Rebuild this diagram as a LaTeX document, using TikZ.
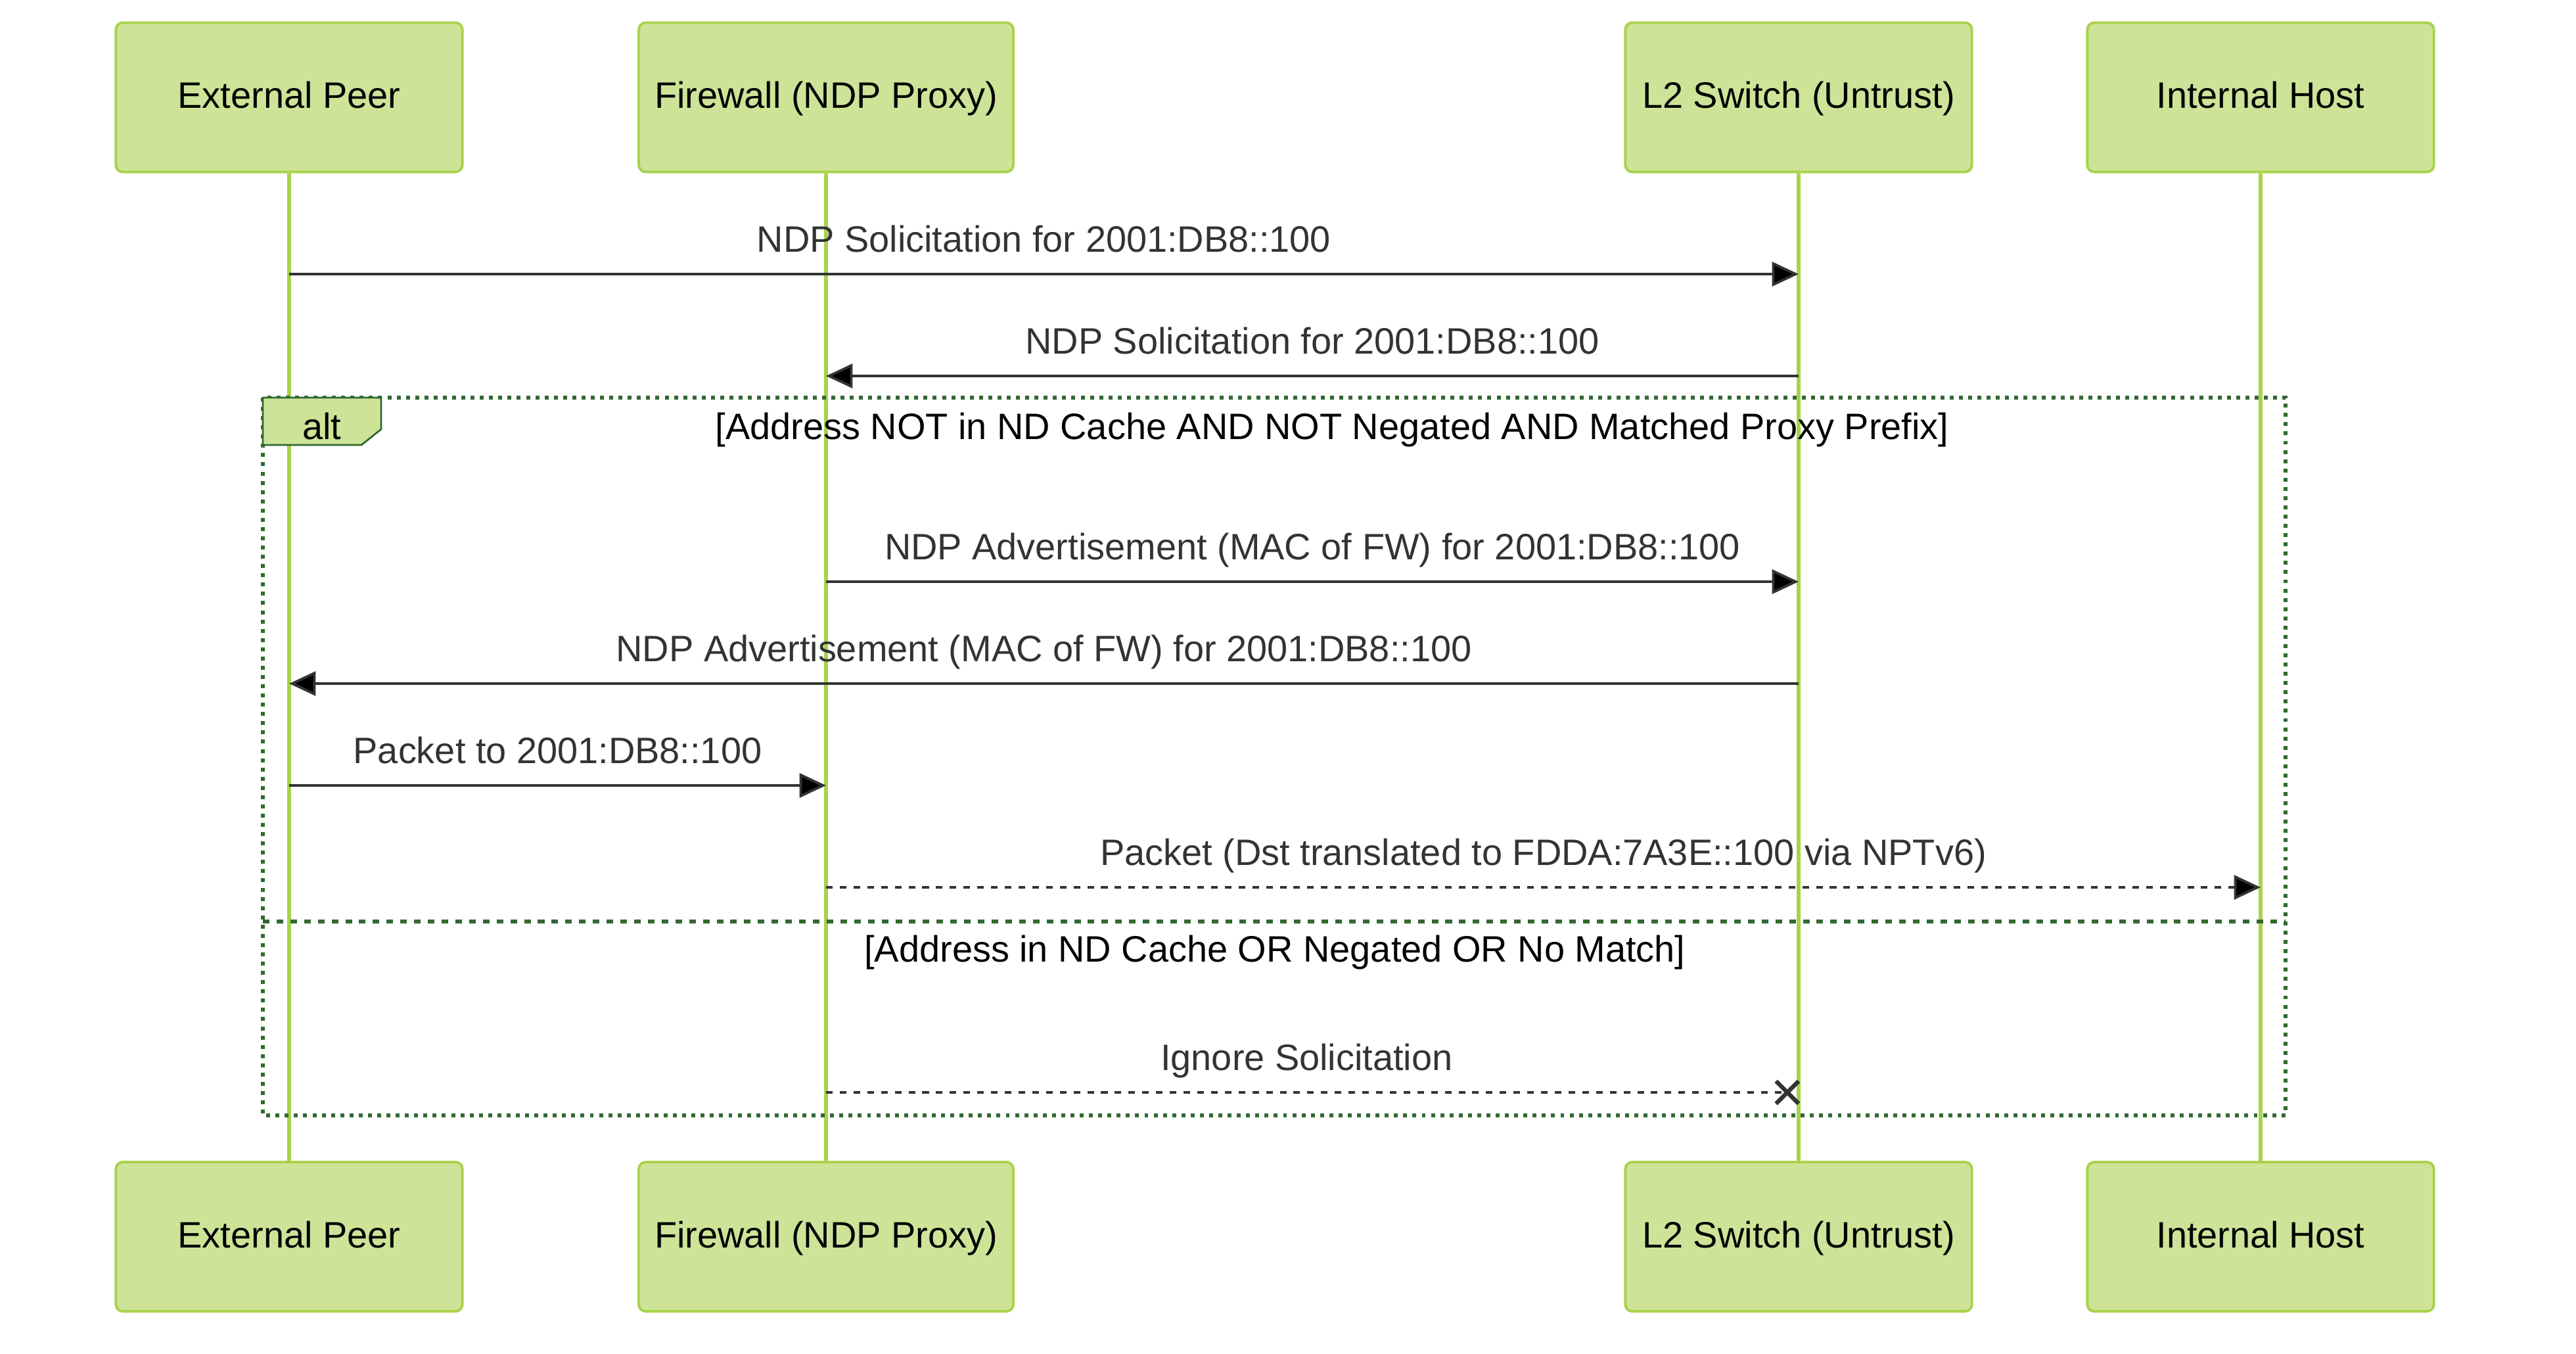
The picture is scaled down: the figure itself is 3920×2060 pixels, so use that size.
\documentclass[tikz,border=0pt]{standalone}
\usepackage{fontspec}
\setmainfont{Liberation Sans}
\usepackage{tikz}
\usetikzlibrary{arrows.meta,positioning,shapes.misc}

\definecolor{actorfill}{HTML}{CDE498}
\definecolor{actorline}{HTML}{A8D24C}
\definecolor{loopline}{HTML}{326932}
\definecolor{msgline}{HTML}{333333}

\begin{document}
\begin{tikzpicture}[x=0.01cm,y=-0.01cm,>={Triangle[length=11.5pt,width=10.5pt]},
  node distance=17.325cm,
  actor/.style={rectangle,rounded corners=3pt,draw=actorline,fill=actorfill,line width=1.1pt,
    minimum width=5.27cm,minimum height=2.27cm,inner xsep=0.24cm,
    text height=.95em,text depth=0pt,font=\fontsize{15.9}{19}\selectfont},
  lifeline/.style={draw=actorline,line width=1.7pt},
  msg/.style={draw=msgline,line width=1.1pt},
  reply/.style={msg,dash pattern=on 2.85pt off 3.1pt},
  lbl/.style={text=msgline,inner sep=0pt,yshift=0.5cm,text height=.95em,text depth=0pt,
    font=\fontsize{15.9}{19}\selectfont},
  xmark/.style={cross out,draw=msgline,line width=1.8pt,inner sep=0pt,minimum size=0.28cm},
  altframe/.style={draw=loopline,line width=1.7pt,dash pattern=on 1.7pt off 2.3pt},
  divider/.style={draw=loopline,line width=1.7pt,dash pattern=on 2.85pt off 3.1pt},
  alttag/.style={draw=loopline,fill=actorfill,line width=0.8pt},
  cond/.style={inner sep=0pt,text height=.95em,text depth=0pt,font=\fontsize{15.9}{19}\selectfont}]

  \useasboundingbox (0,0) rectangle (3920,2060);

  \node[actor] (ep) at (440,148) {External Peer};
  \node[actor] (fw) at (1257,148) {Firewall (NDP Proxy)};
  \node[actor] (l2) at (2737,148) {L2 Switch (Untrust)};
  \node[actor] (ih) at (3440,148) {Internal Host};

  \node[actor] (ep2) [below of=ep] {External Peer};
  \node[actor] (fw2) [below of=fw] {Firewall (NDP Proxy)};
  \node[actor] (l22) [below of=l2] {L2 Switch (Untrust)};
  \node[actor] (ih2) [below of=ih] {Internal Host};

  \draw[lifeline] (ep) -- (ep2);
  \draw[lifeline] (fw) -- (fw2);
  \draw[lifeline] (l2) -- (l22);
  \draw[lifeline] (ih) -- (ih2);

  \coordinate (r1) at (0,417);
  \coordinate (r2) at (0,572);
  \coordinate (r3) at (0,885);
  \coordinate (r4) at (0,1040);
  \coordinate (r5) at (0,1195);
  \coordinate (r6) at (0,1350);
  \coordinate (r7) at (0,1662);

  \path[msg]
    (ep |- r1) edge[->] node[lbl] {NDP Solicitation for 2001:DB8::100} (l2 |- r1)
    (l2 |- r2) edge[->] node[lbl] {NDP Solicitation for 2001:DB8::100} (fw |- r2)
    (fw |- r3) edge[->] node[lbl] {NDP Advertisement (MAC of FW) for 2001:DB8::100} (l2 |- r3)
    (l2 |- r4) edge[->] node[lbl] {NDP Advertisement (MAC of FW) for 2001:DB8::100} (ep |- r4)
    (ep |- r5) edge[->] node[lbl] {Packet to 2001:DB8::100} (fw |- r5);
  \path[reply]
    (fw |- r6) edge[->] node[lbl] {Packet (Dst translated to FDDA:7A3E::100 via NPTv6)} (ih |- r6);

  \node[xmark,anchor=east] (x7) at (l2 |- r7) {};
  \path[reply] (fw |- r7) edge node[lbl] {Ignore Solicitation} (x7.center);

  \draw[altframe] (400,605) rectangle (3478,1697);
  \draw[divider] (400,1402) -- (3478,1402);
  \draw[alttag] (400,605) -- (580,605) -- (580,653) -- (550,677) -- (400,677) -- cycle;
  \node[cond] (alt) at (490,652) {alt};
  \node[cond] (c1) at (2027,652) {[Address NOT in ND Cache AND NOT Negated AND Matched Proxy Prefix]};
  \node[cond] (c2) at (1940,1447) {[Address in ND Cache OR Negated OR No Match]};
\end{tikzpicture}
\end{document}
